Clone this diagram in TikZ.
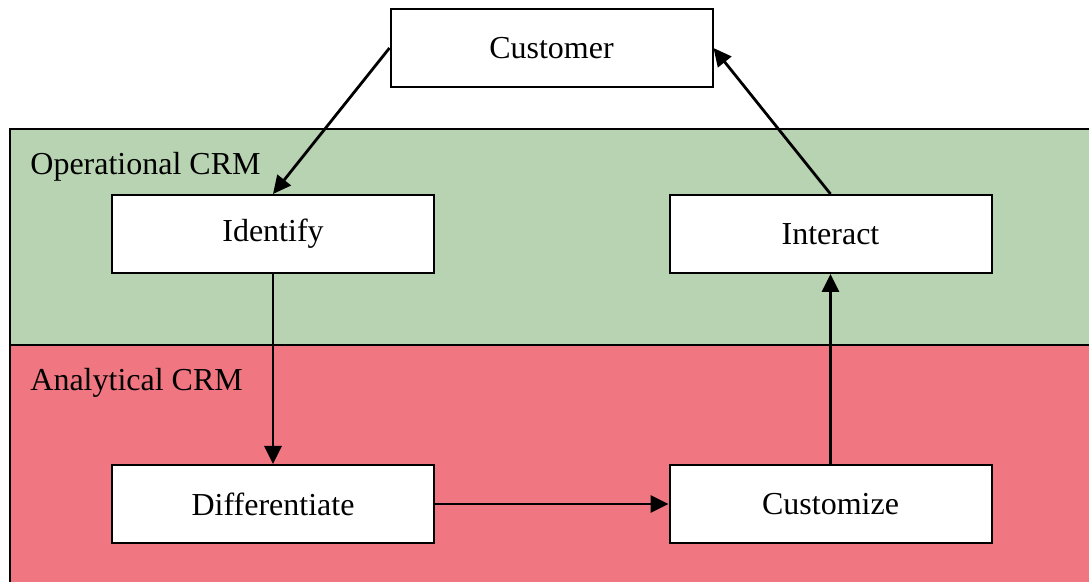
\documentclass[tikz,border=0pt]{standalone}
\usepackage{fontspec}
\setmainfont{Liberation Serif}
\usetikzlibrary{arrows.meta}
\definecolor{opgreen}{RGB}{184,211,177}
\definecolor{anred}{RGB}{240,119,129}
\tikzset{
  stepbox/.style={draw,line width=1pt,fill=white,minimum width=161pt,minimum height=39pt,inner sep=0pt,font=\fontsize{16}{19}\selectfont},
  bandlabel/.style={anchor=west,inner sep=0pt,font=\fontsize{16}{19}\selectfont},
  flow/.style={line width=1.4pt,-{Triangle[length=9pt,width=8.5pt]}}
}
\begin{document}
\begin{tikzpicture}[x=0.5pt,y=-0.5pt]
\useasboundingbox(0,0) rectangle (1089,582);
\clip(0,0) rectangle (1089,582);
\pgfmathsetmacro{\kxl}{273}
\pgfmathsetmacro{\kxr}{830.5}
% bands
\draw[line width=1pt,fill=opgreen](10,129) rectangle (1095,345);
\draw[line width=1pt,fill=anred](10,345) rectangle (1095,590);
\node[bandlabel](oplabel) at (30,167){Operational CRM};
\node[bandlabel](anlabel) at (30,383){Analytical CRM};
% steps
\node[stepbox](customer) at (551.5,48){Customer};
\node[stepbox](identify) at (\kxl,234){Identify};
\node[stepbox](interact) at (\kxr,234){Interact};
\node[stepbox](differentiate) at (\kxl,504){Differentiate};
\node[stepbox](customize) at (\kxr,504){Customize};
% cycle
\draw[flow](customer.west)--(identify.north);
\draw[flow](identify.south)--(differentiate.north);
\draw[flow](differentiate.east)--(customize.west);
\draw[flow](customize.north)--(interact.south);
\draw[flow](interact.north)--(customer.east);
\end{tikzpicture}
\end{document}
